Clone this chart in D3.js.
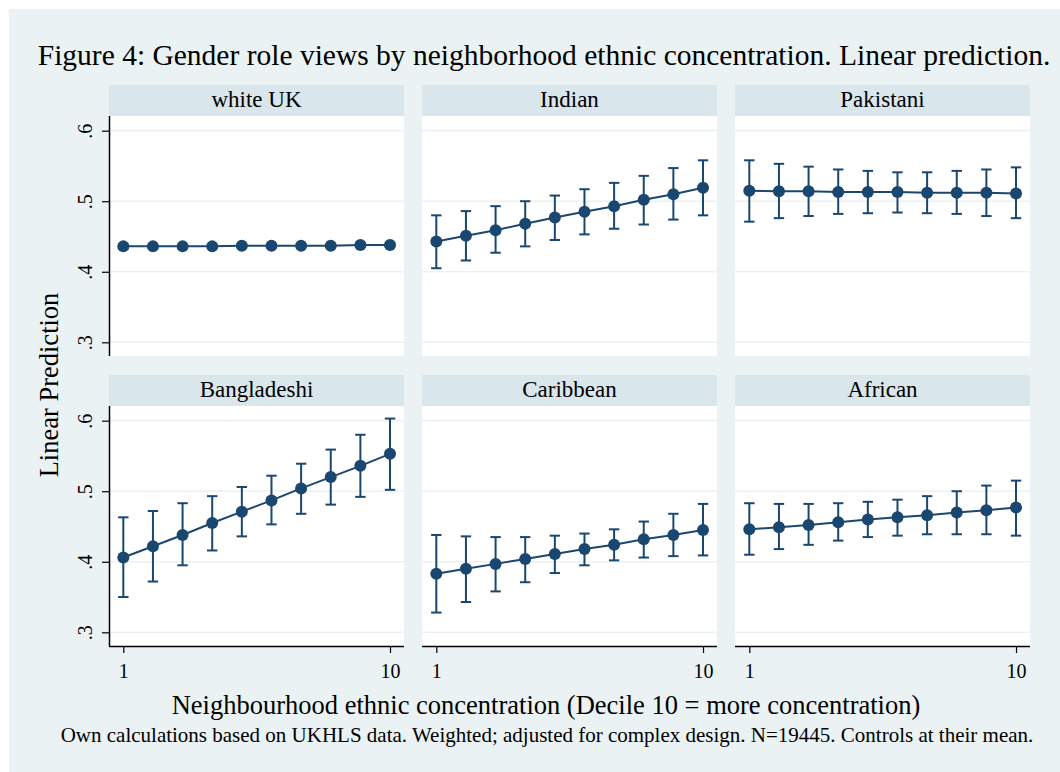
<!DOCTYPE html>
<html>
<head>
<meta charset="utf-8">
<script src="https://cdn.jsdelivr.net/npm/d3@7"></script>
<style>
  html, body { margin: 0; padding: 0; background: #ffffff; }
  svg { display: block; }
  text { font-family: "Liberation Serif", "Times New Roman", Times, serif; fill: #000; }
</style>
</head>
<body>
<svg id="chart" width="1060" height="772"></svg>
<script>
// ---- data ----
const groups = ["white UK", "Indian", "Pakistani", "Bangladeshi", "Caribbean", "African"];
const deciles = [1, 2, 3, 4, 5, 6, 7, 8, 9, 10];

const whiteUKFit = [0.436, 0.436, 0.436, 0.436, 0.437, 0.437, 0.437, 0.437, 0.438, 0.438];
const whiteUKLo  = [0.433, 0.434, 0.434, 0.434, 0.435, 0.435, 0.435, 0.435, 0.435, 0.435];
const whiteUKHi  = [0.439, 0.438, 0.438, 0.438, 0.439, 0.439, 0.439, 0.439, 0.441, 0.441];

const indianFit = [0.443, 0.451, 0.459, 0.468, 0.477, 0.485, 0.493, 0.502, 0.510, 0.519];
const indianLo  = [0.405, 0.416, 0.427, 0.436, 0.445, 0.453, 0.461, 0.467, 0.474, 0.480];
const indianHi  = [0.480, 0.486, 0.493, 0.500, 0.508, 0.517, 0.526, 0.536, 0.547, 0.558];

const pakistaniFit = [0.515, 0.514, 0.514, 0.513, 0.513, 0.513, 0.512, 0.512, 0.512, 0.511];
const pakistaniLo  = [0.471, 0.476, 0.479, 0.482, 0.483, 0.484, 0.483, 0.482, 0.479, 0.476];
const pakistaniHi  = [0.558, 0.553, 0.549, 0.545, 0.543, 0.541, 0.541, 0.543, 0.545, 0.548];

const bangladeshiFit = [0.406, 0.422, 0.438, 0.455, 0.471, 0.487, 0.504, 0.520, 0.536, 0.553];
const bangladeshiLo  = [0.350, 0.372, 0.395, 0.416, 0.436, 0.453, 0.468, 0.481, 0.492, 0.502];
const bangladeshiHi  = [0.463, 0.472, 0.483, 0.493, 0.506, 0.522, 0.539, 0.559, 0.580, 0.603];

const caribbeanFit = [0.383, 0.390, 0.397, 0.404, 0.411, 0.418, 0.424, 0.432, 0.438, 0.445];
const caribbeanLo  = [0.328, 0.343, 0.358, 0.371, 0.384, 0.395, 0.402, 0.406, 0.408, 0.409];
const caribbeanHi  = [0.438, 0.436, 0.435, 0.435, 0.437, 0.440, 0.446, 0.457, 0.468, 0.482];

const africanFit = [0.446, 0.449, 0.452, 0.456, 0.460, 0.463, 0.466, 0.470, 0.473, 0.477];
const africanLo  = [0.410, 0.418, 0.424, 0.430, 0.435, 0.437, 0.439, 0.439, 0.439, 0.437];
const africanHi  = [0.483, 0.482, 0.482, 0.483, 0.485, 0.488, 0.493, 0.500, 0.508, 0.515];

const yTicks = [0.3, 0.4, 0.5, 0.6];
const yTickLabels = [".3", ".4", ".5", ".6"];
const xTicks = [1, 10];
const xTickLabels = ["1", "10"];

const fits = [whiteUKFit, indianFit, pakistaniFit, bangladeshiFit, caribbeanFit, africanFit];
const los  = [whiteUKLo, indianLo, pakistaniLo, bangladeshiLo, caribbeanLo, africanLo];
const his  = [whiteUKHi, indianHi, pakistaniHi, bangladeshiHi, caribbeanHi, africanHi];

// ---- layout ----
const W = 1060, H = 772;
const colX = [109, 422, 735];
const panelW = 295;
const stripTop = [85, 375];
const stripH = 31;
const plotH = 240;

const colors = {
  bg: "#eaf2f3",
  strip: "#d9e6eb",
  grid: "#eaf2f3",
  mark: "#1a476f"
};

const svg = d3.select("#chart");

// outer graph region
svg.append("rect").attr("x", 9).attr("y", 9).attr("width", W - 9).attr("height", H - 9)
  .attr("fill", colors.bg);

const x = d3.scaleLinear().domain([0.517, 10.472]).range([0, panelW]);
const y = d3.scaleLinear().domain([0.2806, 0.6208]).range([plotH, 0]);

groups.forEach((name, i) => {
  const row = Math.floor(i / 3), col = i % 3;
  const gx = colX[col], gy = stripTop[row];
  const panel = svg.append("g").attr("transform", `translate(${gx},${gy})`);

  // strip
  panel.append("rect").attr("x", 0).attr("y", 0).attr("width", panelW).attr("height", stripH)
    .attr("fill", colors.strip);
  panel.append("text").attr("x", panelW / 2).attr("y", 22)
    .attr("text-anchor", "middle").attr("font-size", 23).text(name);

  const plot = panel.append("g").attr("transform", `translate(0,${stripH})`);
  plot.append("rect").attr("width", panelW).attr("height", plotH).attr("fill", "#ffffff");

  // horizontal grid
  plot.selectAll("line.grid").data(yTicks).join("line").attr("class", "grid")
    .attr("x1", 0).attr("x2", panelW)
    .attr("y1", d => y(d)).attr("y2", d => y(d))
    .attr("stroke", colors.grid).attr("stroke-width", 1.6);

  const pts = deciles.map((d, k) => ({ d, fit: fits[i][k], lo: los[i][k], hi: his[i][k] }));

  // confidence intervals
  const ci = plot.append("g").attr("stroke", colors.mark).attr("stroke-width", 2).attr("fill", "none");
  ci.selectAll("line.v").data(pts).join("line").attr("class", "v")
    .attr("x1", p => x(p.d)).attr("x2", p => x(p.d))
    .attr("y1", p => y(p.lo)).attr("y2", p => y(p.hi));
  ci.selectAll("line.top").data(pts).join("line").attr("class", "top")
    .attr("x1", p => x(p.d) - 5.2).attr("x2", p => x(p.d) + 5.2)
    .attr("y1", p => y(p.hi)).attr("y2", p => y(p.hi));
  ci.selectAll("line.bot").data(pts).join("line").attr("class", "bot")
    .attr("x1", p => x(p.d) - 5.2).attr("x2", p => x(p.d) + 5.2)
    .attr("y1", p => y(p.lo)).attr("y2", p => y(p.lo));

  // prediction line
  plot.append("path").datum(pts)
    .attr("d", d3.line().x(p => x(p.d)).y(p => y(p.fit)))
    .attr("fill", "none").attr("stroke", colors.mark).attr("stroke-width", 2);

  // markers
  plot.selectAll("circle").data(pts).join("circle")
    .attr("cx", p => x(p.d)).attr("cy", p => y(p.fit)).attr("r", 6)
    .attr("fill", colors.mark);

  // y axis on the left column
  if (col === 0) {
    const yAxis = d3.axisLeft(y).tickValues(yTicks)
      .tickFormat((d, k) => yTickLabels[k]).tickSize(7).tickSizeOuter(0);
    const ga = plot.append("g").call(yAxis);
    ga.select(".domain").attr("stroke", "#000").attr("stroke-width", 1.5)
      .attr("d", `M0.5,0V${plotH}`);
    ga.selectAll(".tick line").attr("stroke", "#000").attr("stroke-width", 1.2);
    ga.selectAll(".tick text")
      .attr("font-size", 20).attr("font-family", null)
      .attr("x", null).attr("dy", null)
      .attr("text-anchor", "middle")
      .attr("transform", "translate(-17.5,0) rotate(-90)");
  }

  // x axis on the bottom row
  if (row === 1) {
    const xAxis = d3.axisBottom(x).tickValues(xTicks)
      .tickFormat((d, k) => xTickLabels[k]).tickSize(7).tickSizeOuter(0);
    const gb = plot.append("g").attr("transform", `translate(0,${plotH})`).call(xAxis);
    gb.select(".domain").attr("stroke", "#000").attr("stroke-width", 1.5)
      .attr("d", `M0,0.5H${panelW}`);
    gb.selectAll(".tick line").attr("stroke", "#000").attr("stroke-width", 1.2);
    gb.selectAll(".tick text").attr("font-size", 20).attr("font-family", null)
      .attr("y", 32).attr("dy", null);
  }
});

// titles
svg.append("text").attr("x", 544).attr("y", 65).attr("text-anchor", "middle")
  .attr("font-size", 29.5)
  .text("Figure 4: Gender role views by neighborhood ethnic concentration. Linear prediction.");

svg.append("text").attr("transform", "translate(58,385) rotate(-90)")
  .attr("text-anchor", "middle").attr("font-size", 26.5).text("Linear Prediction");

svg.append("text").attr("x", 546).attr("y", 714).attr("text-anchor", "middle")
  .attr("font-size", 26.5)
  .text("Neighbourhood ethnic concentration (Decile 10 = more concentration)");

svg.append("text").attr("x", 547).attr("y", 742).attr("text-anchor", "middle")
  .attr("font-size", 21)
  .text("Own calculations based on UKHLS data. Weighted; adjusted for complex design. N=19445. Controls at their mean.");
</script>
</body>
</html>
